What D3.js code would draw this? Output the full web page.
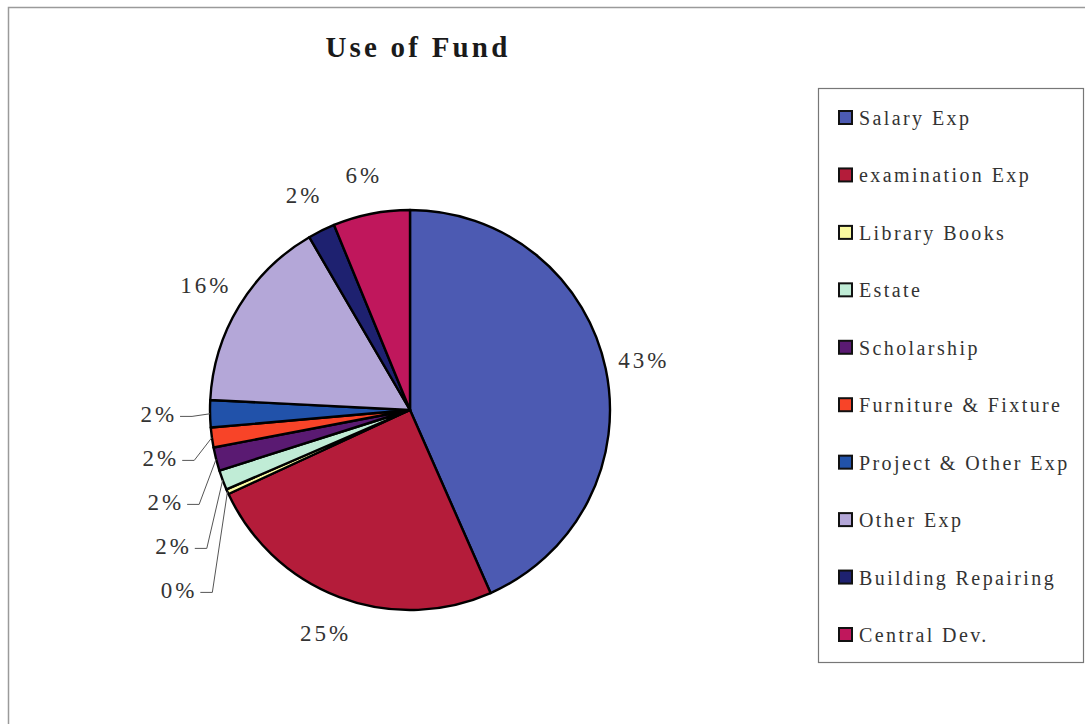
<!DOCTYPE html>
<html>
<head>
<meta charset="utf-8">
<script src="https://cdn.jsdelivr.net/npm/d3@7/dist/d3.min.js"></script>
<style>
  html, body { margin: 0; padding: 0; background: #fff; }
  svg { display: block; }
</style>
</head>
<body>
<svg id="chart" width="1085" height="725"></svg>
<script>
const title = "Use of Fund";
const categories = ["Salary Exp", "examination Exp", "Library Books", "Estate", "Scholarship",
  "Furniture & Fixture", "Project & Other Exp", "Other Exp", "Building Repairing", "Central Dev."];
const values = [43.4, 24.7, 0.4, 1.6, 1.9, 1.6, 2.2, 15.8, 2.2, 6.2];
const colors = ["#4c5ab2", "#b41c3a", "#fafaa0", "#c0ecd6", "#5a1a72", "#f84428", "#2152aa", "#b4a7d8", "#1e2170", "#c0175c"];
const stackedLabels = ["Library Books", "Estate", "Scholarship", "Furniture & Fixture", "Project & Other Exp"];

const svg = d3.select("#chart");

// outer frame
svg.append("path")
  .attr("d", "M8.5,724 L8.5,7.5 L1085,7.5")
  .attr("fill", "none").attr("stroke", "#9a9a9a").attr("stroke-width", 1.5);

// title
svg.append("text")
  .attr("x", 418).attr("y", 57)
  .attr("text-anchor", "middle")
  .attr("font-family", "Liberation Serif, Times New Roman, serif")
  .attr("font-weight", "bold").attr("font-size", 29)
  .attr("letter-spacing", 3.2)
  .attr("fill", "#1a1a1a")
  .text(title);

const cx = 410, cy = 410, R = 200;
const data = categories.map((c, i) => ({ name: c, value: values[i], color: colors[i] }));
const total = d3.sum(values);
const pie = d3.pie().sort(null).value(d => d.value).startAngle(0).endAngle(2 * Math.PI);
const arcs = pie(data);
const arc = d3.arc().innerRadius(0).outerRadius(R);

const g = svg.append("g").attr("transform", `translate(${cx},${cy})`);
g.selectAll("path.slice").data(arcs).enter().append("path")
  .attr("class", "slice")
  .attr("d", arc)
  .attr("fill", d => d.data.color)
  .attr("stroke", "#000").attr("stroke-width", 2.4).attr("stroke-linejoin", "round");

const pct = d => Math.round(d.data.value / total * 100) + "%";
const labelFont = "Liberation Serif, Times New Roman, serif";

// normal labels
const rl = 239;
arcs.filter(d => !stackedLabels.includes(d.data.name)).forEach(d => {
  const a = (d.startAngle + d.endAngle) / 2;
  g.append("text")
    .attr("x", rl * Math.sin(a)).attr("y", -rl * Math.cos(a))
    .attr("text-anchor", "middle").attr("dominant-baseline", "central")
    .attr("font-family", labelFont).attr("font-size", 23).attr("letter-spacing", 3)
    .attr("fill", "#333").text(pct(d));
});

// stacked labels on the left with leader lines
const rs = 233, gap = 44;
const st = arcs.filter(d => stackedLabels.includes(d.data.name))
  .map(d => {
    const a = (d.startAngle + d.endAngle) / 2;
    return { d, a, x: rs * Math.sin(a), y: -rs * Math.cos(a) };
  })
  .sort((p, q) => p.y - q.y);
for (let i = 1; i < st.length; i++) {
  if (st[i].y < st[i - 1].y + gap) st[i].y = st[i - 1].y + gap;
}
st.forEach(p => {
  g.append("text")
    .attr("x", p.x).attr("y", p.y)
    .attr("text-anchor", "end").attr("dominant-baseline", "central")
    .attr("font-family", labelFont).attr("font-size", 23).attr("letter-spacing", 3)
    .attr("fill", "#333").text(pct(p.d));
  const ex = R * Math.sin(p.a), ey = -R * Math.cos(p.a);
  const line = d3.line();
  g.append("path")
    .attr("d", line([[p.x + 3, p.y + 2], [p.x + 15, p.y + 2], [ex, ey]]))
    .attr("fill", "none").attr("stroke", "#555").attr("stroke-width", 1);
});

// legend
const lg = svg.append("g");
lg.append("rect")
  .attr("x", 818.5).attr("y", 88.5).attr("width", 265).attr("height", 574)
  .attr("fill", "#fff").attr("stroke", "#777").attr("stroke-width", 1.2);
const ly = d3.scalePoint().domain(categories).range([118, 635]);
const items = lg.selectAll("g.item").data(data).enter().append("g").attr("class", "item")
  .attr("transform", d => `translate(0,${ly(d.name)})`);
items.append("rect")
  .attr("x", 839).attr("y", -7).attr("width", 13).attr("height", 13)
  .attr("fill", d => d.color).attr("stroke", "#111").attr("stroke-width", 2);
items.append("text")
  .attr("x", 859).attr("y", 0)
  .attr("dominant-baseline", "central")
  .attr("font-family", labelFont).attr("font-size", 20).attr("letter-spacing", 2.4)
  .attr("fill", "#333")
  .text(d => d.name);
</script>
</body>
</html>
